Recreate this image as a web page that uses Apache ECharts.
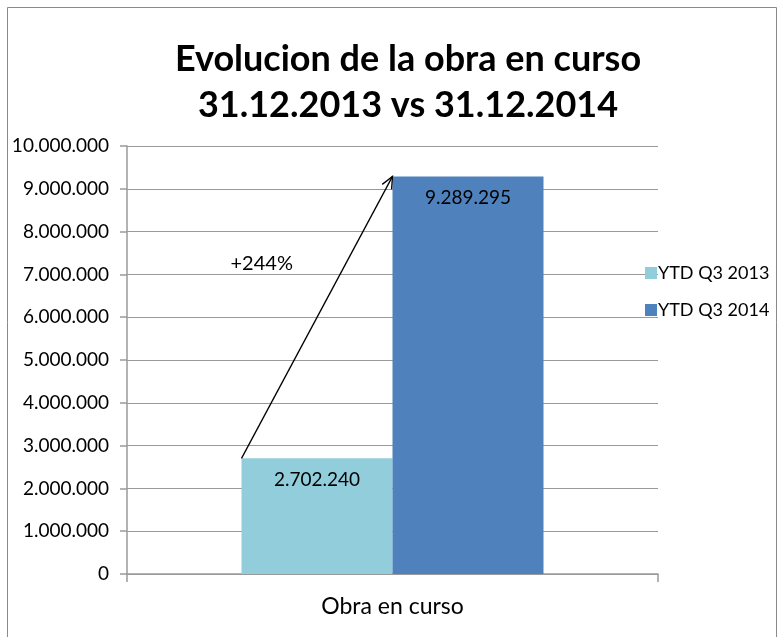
<!DOCTYPE html>
<html><head><meta charset="utf-8">
<script src="https://cdn.jsdelivr.net/npm/echarts@6/dist/echarts.min.js"></script>
<style>html,body{margin:0;padding:0;background:#fff}#c{width:784px;height:637px}</style>
</head><body><div id="c"></div>
<script>
const categories = ['Obra en curso'];
const seriesNames = ['YTD Q3 2013', 'YTD Q3 2014'];
const values2013 = [2702240];
const values2014 = [9289295];
const changeLabel = '+244%';
const yTicks = { min: 0, max: 10000000, interval: 1000000 };

const FONT = 'Lato';
function fmt(v){ return String(Math.round(v)).replace(/\B(?=(\d{3})+(?!\d))/g, '.'); }

const chart = echarts.init(document.getElementById('c'), null, {renderer:'canvas'});
const BW = 151;
chart.setOption({
  animation:false,
  backgroundColor:'#fff',
  title:{ text:'Evolucion de la obra en curso\n31.12.2013 vs 31.12.2014', left:403, textAlign:'center', top:31,
    textStyle:{fontFamily:FONT, fontSize:36, fontWeight:'bold', color:'#000', lineHeight:46} },
  grid:{ left:127, right:126, top:146, bottom:63 },
  legend:{ orient:'vertical', left:640, top:259, itemWidth:12, itemHeight:12, itemGap:19,
    icon:'rect', textStyle:{fontFamily:FONT, fontSize:18, color:'#000', padding:[0,0,0,-4]}, data:seriesNames },
  xAxis:{ type:'category', data:categories, boundaryGap:true,
    axisLine:{lineStyle:{color:'#9a9a9a', width:1.5}},
    axisTick:{show:true, length:8, lineStyle:{color:'#9a9a9a', width:1.5}},
    axisLabel:{fontFamily:FONT, fontSize:23, color:'#000', margin:21} },
  yAxis:{ type:'value', min:yTicks.min, max:yTicks.max, interval:yTicks.interval,
    axisLine:{show:true, lineStyle:{color:'#9a9a9a', width:1.5}},
    axisTick:{show:true, length:7, lineStyle:{color:'#9a9a9a', width:1.5}},
    splitLine:{lineStyle:{color:'#9a9a9a', width:1.2}},
    axisLabel:{fontFamily:FONT, fontSize:19, color:'#000', margin:18, formatter:fmt} },
  series:[
    { name:seriesNames[0], type:'bar', data:values2013, barWidth:BW, barGap:'0%', itemStyle:{color:'#92CDDC'},
      label:{show:true, position:'insideTop', distance:12, formatter:p=>fmt(p.value), fontFamily:FONT, fontSize:19, color:'#000'} },
    { name:seriesNames[1], type:'bar', data:values2014, barWidth:BW, barGap:'0%', itemStyle:{color:'#4F81BD'},
      label:{show:true, position:'insideTop', distance:12, formatter:p=>fmt(p.value), fontFamily:FONT, fontSize:19, color:'#000'} }
  ]
});

// arrow from top-left of first bar to top-left of second bar, computed via scales
const cx = chart.convertToPixel({xAxisIndex:0}, categories[0]);
const x1 = cx - BW, y1 = chart.convertToPixel({yAxisIndex:0}, values2013[0]);
const x2 = cx, y2 = chart.convertToPixel({yAxisIndex:0}, values2014[0]);
const ang = Math.atan2(y2 - y1, x2 - x1), L = 13, sp = 0.42;
const h1 = [x2 - L*Math.cos(ang - sp), y2 - L*Math.sin(ang - sp)];
const h2 = [x2 - L*Math.cos(ang + sp), y2 - L*Math.sin(ang + sp)];
chart.setOption({ graphic:[
  { type:'rect', shape:{x:7.5, y:7.5, width:769, height:640}, style:{fill:'none', stroke:'#8a8a8a', lineWidth:1}, silent:true, z:-1 },
  { type:'line', shape:{x1:x1, y1:y1, x2:x2, y2:y2}, style:{stroke:'#000', lineWidth:1.3}, z:100 },
  { type:'polyline', shape:{points:[h1,[x2,y2],h2]}, style:{stroke:'#000', lineWidth:1.3, fill:'none'}, z:100 },
  { type:'text', x:x1 - 11, y:(y1+y2)/2 - 54, style:{text:changeLabel, font:'20px '+FONT, fill:'#000', textVerticalAlign:'middle'}, z:100 }
]});
</script></body></html>
